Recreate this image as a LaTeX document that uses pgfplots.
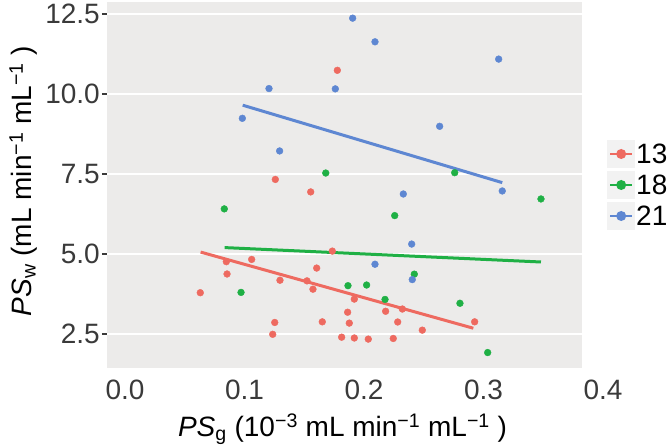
\documentclass[border=0pt]{standalone}
\usepackage{fontspec}
\setmainfont{Liberation Sans}
\usepackage{pgfplots}
\pgfplotsset{compat=1.18}
\definecolor{ggbg}{HTML}{ECEBEA}
\definecolor{ggkey}{HTML}{F2F2F2}
\definecolor{cred}{HTML}{EE6A60}
\definecolor{cgreen}{HTML}{1FB045}
\definecolor{cblue}{HTML}{5E87D2}
\definecolor{ticktext}{HTML}{3A3A3A}
\newcommand{\sups}[1]{\textsuperscript{#1}}
\begin{document}
\begin{tikzpicture}
\useasboundingbox (0,0) rectangle (667pt,446pt);
\begin{axis}[
  at={(107pt,78pt)}, anchor=south west,
  scale only axis, width=475pt, height=366pt,
  xmin=-0.01506, xmax=0.38243,
  ymin=1.4375, ymax=12.875,
  axis line style={draw=none},
  axis background/.style={fill=ggbg},
  ymajorgrids, grid style={white, line width=1.5pt},
  xtick={0,0.1,0.2,0.3},
  ytick={2.5,5,7.5,10,12.5},
  x tick style={draw=none},
  y tick style={ticktext, line width=1.2pt},
  major tick length=5pt, tick align=outside,
  tick pos=left,
  /pgf/number format/assume math mode=true,
  /pgf/number format/fixed, /pgf/number format/fixed zerofill,
  /pgf/number format/precision=1,
  tick label style={font=\fontsize{28}{30}\selectfont, text=ticktext},
  yticklabel style={inner sep=0pt, xshift=-2pt},
  xticklabel style={inner sep=0pt, anchor=north, yshift=-7pt},
  clip=false,
  xlabel={\textit{PS}\textsubscript{g} (10\sups{−3} mL min\sups{−1} mL\sups{−1} )},
  ylabel={\textit{PS}\textsubscript{w} (mL min\sups{−1} mL\sups{−1} )},
  every axis x label/.style={at={(axis description cs:0.4958,-0.1885)}, anchor=base, font=\fontsize{28}{32}\selectfont, inner sep=0pt},
  every axis y label/.style={at={(axis description cs:-0.1579,0.511)}, rotate=90, anchor=base, font=\fontsize{28}{32}\selectfont, inner sep=0pt},
  legend style={at={(axis description cs:1.0526,0.5)}, anchor=west, draw=none, fill=none, inner sep=0pt,
    font=\fontsize{28}{30}\selectfont, row sep=3pt, nodes={inner sep=1pt, anchor=west}},
  legend cell align=left,
  legend image code/.code={
    \fill[ggkey] (0pt,-12.5pt) rectangle (25pt,12.5pt);
    \draw[line width=2.6pt] (1.5pt,0pt) -- (23.5pt,0pt);
    \fill (12.5pt,0pt) circle (3.4pt);
  },
]
\addplot[only marks, mark=*, mark size=3.4pt, color=cred, forget plot] coordinates {
(0.1777,10.74) (0.1258,7.33) (0.1554,6.94) (0.1735,5.09) (0.0848,4.76) (0.1060,4.83)
(0.1604,4.56) (0.0854,4.375) (0.1297,4.18) (0.1523,4.16) (0.1573,3.90) (0.0630,3.79)
(0.1253,2.86) (0.1651,2.88) (0.1236,2.49) (0.1813,2.40) (0.1863,3.18) (0.1919,3.59)
(0.2181,3.21) (0.2321,3.28) (0.1877,2.84) (0.2282,2.875) (0.2926,2.88) (0.2488,2.62)
(0.1919,2.375) (0.2036,2.34) (0.2245,2.36)
};
\addplot[only marks, mark=*, mark size=3.4pt, color=cgreen, forget plot] coordinates {
(0.1680,7.53) (0.2759,7.54) (0.0831,6.41) (0.0971,3.80) (0.1866,4.01) (0.3481,6.72)
(0.2257,6.20) (0.2421,4.37) (0.2022,4.03) (0.2176,3.58) (0.2803,3.46) (0.3035,1.92)
};
\addplot[only marks, mark=*, mark size=3.4pt, color=cblue, forget plot] coordinates {
(0.1205,10.17) (0.1760,10.16) (0.0982,9.24) (0.1294,8.22) (0.1905,12.37) (0.2092,11.63)
(0.3127,11.09) (0.2633,8.99) (0.3157,6.97) (0.2329,6.875) (0.2399,5.31) (0.2092,4.68)
(0.2404,4.20)
};
\addplot[cred, line width=3pt] coordinates {(0.0633,5.06) (0.2915,2.68)};
\addlegendentry{13}
\addplot[cgreen, line width=3pt] coordinates {(0.0834,5.20) (0.3481,4.75)};
\addlegendentry{18}
\addplot[cblue, line width=3pt] coordinates {(0.0985,9.65) (0.3157,7.23)};
\addlegendentry{21}
\node[font=\fontsize{28}{30}\selectfont, text=ticktext, inner sep=0pt, anchor=north] at (axis cs:0.4,1.4375) [yshift=-12pt] {0.4};
\end{axis}
\end{tikzpicture}
\end{document}
